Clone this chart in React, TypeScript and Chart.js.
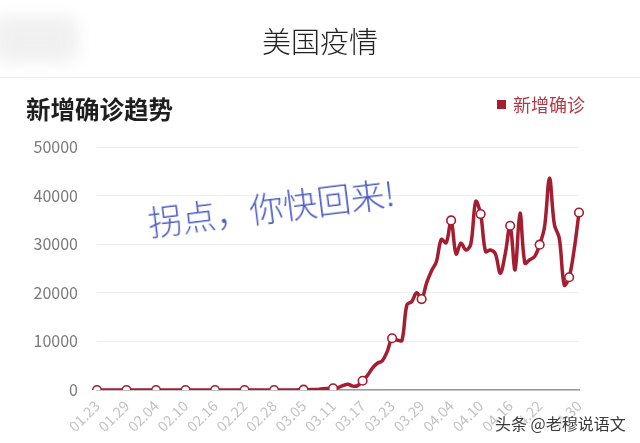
import React, { useEffect, useRef } from "react";
import { Chart, registerables } from "chart.js";

Chart.register(...registerables);

// Categories: daily dates 01.23 – 04.30
const janDates = ["01.23", "01.24", "01.25", "01.26", "01.27", "01.28", "01.29", "01.30", "01.31"];
const febDates = [
  "02.01", "02.02", "02.03", "02.04", "02.05", "02.06", "02.07", "02.08", "02.09", "02.10",
  "02.11", "02.12", "02.13", "02.14", "02.15", "02.16", "02.17", "02.18", "02.19", "02.20",
  "02.21", "02.22", "02.23", "02.24", "02.25", "02.26", "02.27", "02.28", "02.29",
];
const marDates = [
  "03.01", "03.02", "03.03", "03.04", "03.05", "03.06", "03.07", "03.08", "03.09", "03.10",
  "03.11", "03.12", "03.13", "03.14", "03.15", "03.16", "03.17", "03.18", "03.19", "03.20",
  "03.21", "03.22", "03.23", "03.24", "03.25", "03.26", "03.27", "03.28", "03.29", "03.30", "03.31",
];
const aprDates = [
  "04.01", "04.02", "04.03", "04.04", "04.05", "04.06", "04.07", "04.08", "04.09", "04.10",
  "04.11", "04.12", "04.13", "04.14", "04.15", "04.16", "04.17", "04.18", "04.19", "04.20",
  "04.21", "04.22", "04.23", "04.24", "04.25", "04.26", "04.27", "04.28", "04.29", "04.30",
];
const dates = [...janDates, ...febDates, ...marDates, ...aprDates];

// Series: daily new confirmed cases
const janCases = [0, 0, 1, 0, 2, 0, 0, 0, 1];
const febCases = [1, 0, 1, 0, 3, 0, 0, 0, 0, 1, 0, 1, 0, 0, 0, 1, 0, 2, 0, 0, 0, 0, 0, 0, 0, 1, 0, 3, 5];
const marCases = [
  8, 20, 25, 30, 70, 60, 100, 120, 250, 300,
  350, 500, 900, 1200, 800, 900, 1900, 3000, 4500, 5500,
  6000, 7900, 10650, 10300, 10200, 17500, 18200, 20000, 18700, 22000, 24500,
];
const aprCases = [
  26400, 31000, 30300, 34900, 28000, 30200, 28800, 30000, 38800, 36200,
  28500, 28800, 28000, 24000, 28000, 33800, 24700, 36400, 26100, 26800,
  27500, 29900, 33600, 43600, 34000, 31200, 21600, 23200, 28800, 36500,
];
const newCases = [...janCases, ...febCases, ...marCases, ...aprCases];

// Tick labels
const xTickLabels = [
  "01.23", "01.29", "02.04", "02.10", "02.16", "02.22", "02.28", "03.05", "03.11",
  "03.17", "03.23", "03.29", "04.04", "04.10", "04.16", "04.22", "04.30",
];
const markerDates = [
  "01.23", "01.29", "02.04", "02.10", "02.16", "02.22", "02.28", "03.05", "03.11",
  "03.17", "03.23", "03.29", "04.04", "04.10", "04.16", "04.22", "04.28", "04.30",
];
const yTicks = [0, 10000, 20000, 30000, 40000, 50000];

const seriesName = "新增确诊";
const RED = "#a51d30";
const CJK = '"Noto Sans CJK SC", "Noto Sans", sans-serif';

export default function App() {
  const ref = useRef<HTMLCanvasElement>(null);

  useEffect(() => {
    document.body.style.margin = "0";
    const canvas = ref.current;
    if (!canvas) return;
    const chart = new Chart(canvas, {
      type: "line",
      data: {
        labels: dates,
        datasets: [
          {
            label: seriesName,
            data: newCases,
            borderColor: RED,
            borderWidth: 3.5,
            tension: 0.35,
            fill: false,
            pointRadius: (c: any) => (markerDates.includes(dates[c.dataIndex]) ? 4.3 : 0),
            pointHoverRadius: 0,
            pointBackgroundColor: "#ffffff",
            pointBorderColor: RED,
            pointBorderWidth: 1.6,
          },
        ],
      },
      options: {
        animation: false,
        responsive: false,
        maintainAspectRatio: false,
        layout: { padding: { left: 0, right: 61, top: 147, bottom: 0 } },
        plugins: {
          legend: { display: false },
          tooltip: { enabled: false },
          title: { display: false },
        },
        scales: {
          x: {
            grid: { display: false, drawTicks: false },
            border: { display: true, color: "#9a9a9a", width: 1.5 },
            ticks: {
              autoSkip: false,
              maxRotation: 45,
              minRotation: 45,
              padding: 7,
              color: "#c2c2c2",
              font: { family: CJK, size: 14.5 },
              callback: (_v: any, i: number) => (xTickLabels.includes(dates[i]) ? dates[i] : null),
            },
            afterFit: (s: any) => {
              s.height = 53;
            },
          },
          y: {
            min: 0,
            max: 50000,
            afterBuildTicks: (s: any) => {
              s.ticks = yTicks.map((v) => ({ value: v }));
            },
            ticks: {
              padding: 19,
              color: "#7a7a7a",
              font: { family: CJK, size: 16 },
              callback: (v: any) => String(v),
            },
            grid: { color: "#eeeeee", lineWidth: 1, drawTicks: false },
            border: { display: false },
            afterFit: (s: any) => {
              s.width = 97;
            },
          },
        },
      },
    });
    return () => chart.destroy();
  }, []);

  return (
    <div style={{ position: "relative", width: 640, height: 443, background: "#fff", overflow: "hidden" }}>
      <canvas ref={ref} width={640} height={443} style={{ position: "absolute", left: 0, top: 0, display: "block" }} />
      {/* blurred block at top-left */}
      <div
        style={{
          position: "absolute",
          left: -6,
          top: 16,
          width: 84,
          height: 46,
          background: "#f0f0f0",
          filter: "blur(8px)",
          borderRadius: 12,
        }}
      />
      {/* page header */}
      <div
        style={{
          position: "absolute",
          left: 0,
          width: 640,
          top: 22,
          textAlign: "center",
          fontFamily: CJK,
          fontSize: 29,
          lineHeight: "36px",
          color: "#222",
          fontWeight: 300,
        }}
      >
        美国疫情
      </div>
      <div style={{ position: "absolute", left: 0, top: 77, width: 640, height: 1, background: "#ececec" }} />
      {/* chart title */}
      <div
        style={{
          position: "absolute",
          left: 26,
          top: 94,
          fontFamily: CJK,
          fontSize: 24.5,
          lineHeight: "30px",
          fontWeight: 700,
          color: "#1e1e1e",
        }}
      >
        新增确诊趋势
      </div>
      {/* legend */}
      <div style={{ position: "absolute", left: 497, top: 100, width: 9, height: 9, background: RED }} />
      <div
        style={{
          position: "absolute",
          left: 513,
          top: 92,
          fontFamily: CJK,
          fontSize: 18,
          lineHeight: "24px",
          color: "#b23a48",
        }}
      >
        {seriesName}
      </div>
      {/* handwritten annotation */}
      <div
        style={{
          position: "absolute",
          left: 148,
          top: 204,
          fontFamily: CJK,
          fontSize: 34,
          lineHeight: "36px",
          color: "#4b5cc6",
          fontWeight: 300,
          whiteSpace: "nowrap",
          transform: "rotate(-7deg)",
          transformOrigin: "0% 50%",
        }}
      >
        拐点，你快回来!
      </div>
      {/* watermark */}
      <div
        style={{
          position: "absolute",
          left: 495,
          top: 412,
          fontFamily: CJK,
          fontSize: 16,
          lineHeight: "22px",
          color: "#3a3a3a",
          whiteSpace: "nowrap",
          textShadow: "0 0 2px #fff, 0 0 2px #fff, 0 0 3px #fff",
        }}
      >
        头条 @老穆说语文
      </div>
    </div>
  );
}
